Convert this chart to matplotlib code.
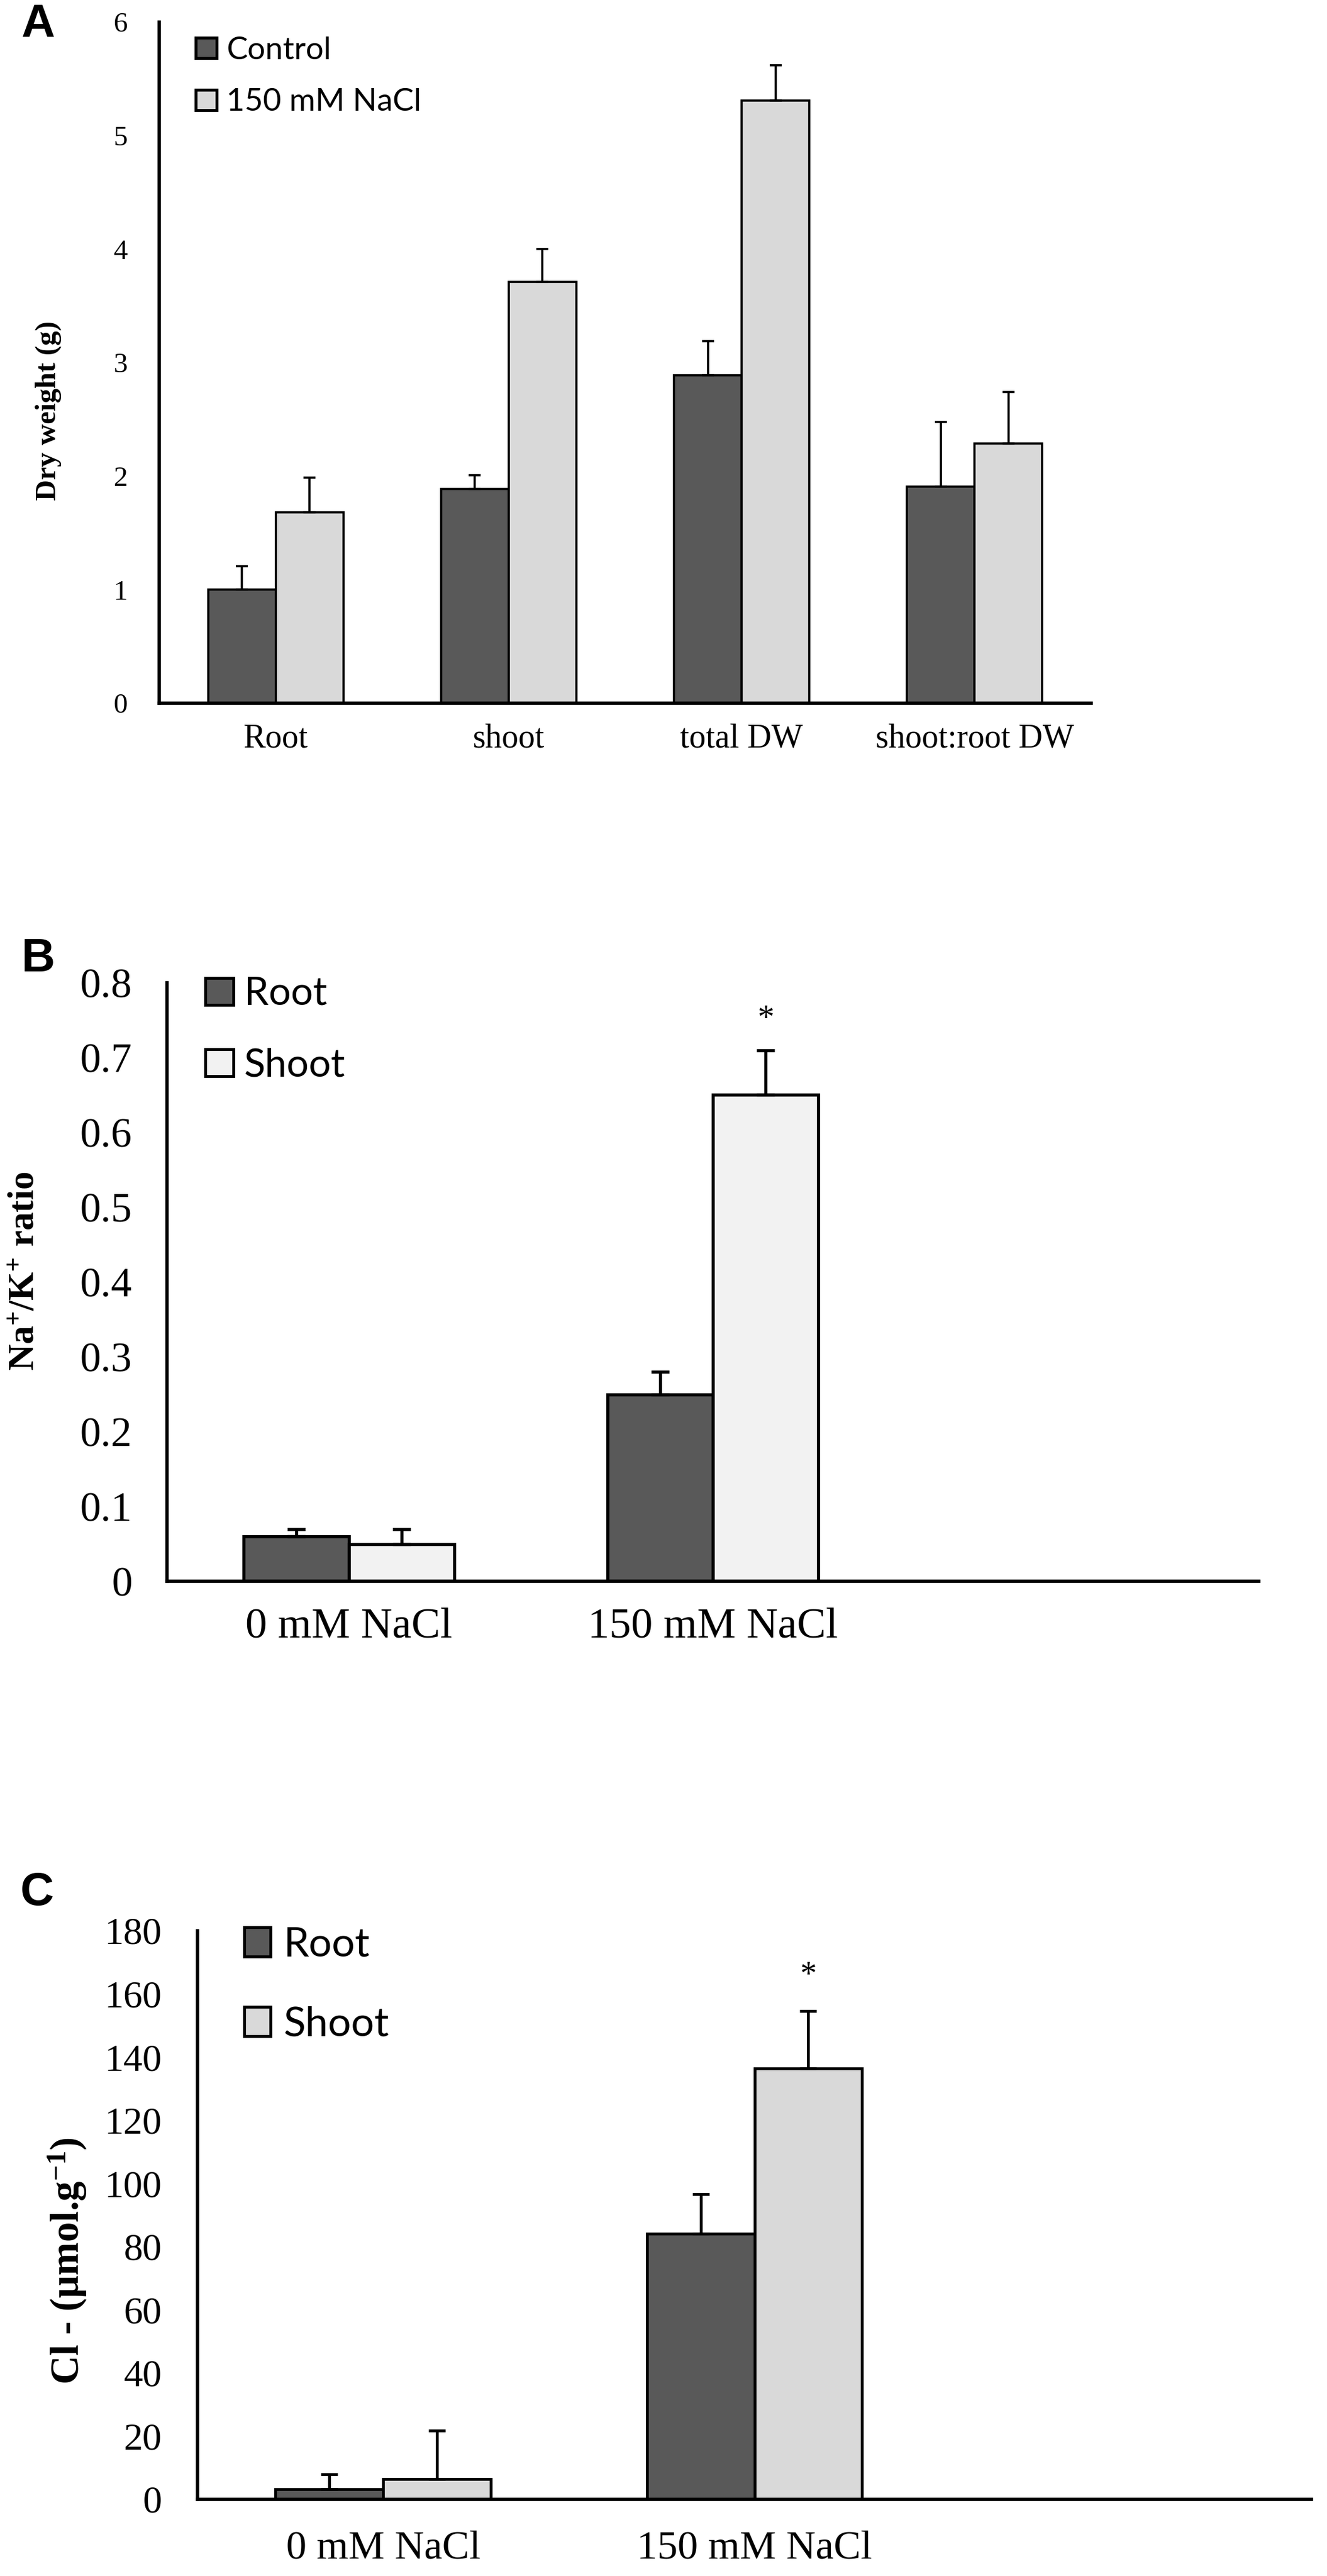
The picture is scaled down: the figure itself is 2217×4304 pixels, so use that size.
import numpy as np
import matplotlib
matplotlib.use("Agg")
import matplotlib.pyplot as plt
from matplotlib.patches import Patch

plt.rcParams['font.family'] = ['Liberation Serif', 'DejaVu Serif']
plt.rcParams['mathtext.default'] = 'regular'

# panel A: dry weight
a_cats = ['Root', 'shoot', 'total DW', 'shoot:root DW']
a_control = [1.0, 1.89, 2.89, 1.91]
a_control_err = [0.21, 0.12, 0.30, 0.57]
a_nacl = [1.68, 3.71, 5.31, 2.29]
a_nacl_err = [0.31, 0.29, 0.31, 0.45]
a_ticks = [0, 1, 2, 3, 4, 5, 6]

# panel B: Na+/K+ ratio
b_cats = ['0 mM NaCl', '150 mM NaCl', '']
b_root = [0.06, 0.25]
b_root_err = [0.01, 0.03]
b_shoot = [0.05, 0.65]
b_shoot_err = [0.02, 0.06]
b_ticks = [0, 0.1, 0.2, 0.3, 0.4, 0.5, 0.6, 0.7, 0.8]
b_star = 0.76

# panel C: Cl- content
c_cats = ['0 mM NaCl', '150 mM NaCl', '']
c_root = [3.3, 84.1]
c_root_err = [4.6, 12.5]
c_shoot = [6.4, 136.4]
c_shoot_err = [15.3, 18.2]
c_ticks = [0, 20, 40, 60, 80, 100, 120, 140, 160, 180]
c_star = 168

dark = '#595959'
W = 2217
H = 4304
fig = plt.figure(figsize=(W / 100, H / 100), dpi=100)


def make_axes(left, right, top, bottom):
    # pixel box of the plot area -> figure fraction
    return fig.add_axes([left / W, 1 - bottom / H, (right - left) / W, (bottom - top) / H])


def style(ax, tick_fs, cat_fs, ypad, xpad):
    for s in ['top', 'right']:
        ax.spines[s].set_visible(False)
    for s in ['left', 'bottom']:
        ax.spines[s].set_linewidth(4)
        ax.spines[s].set_zorder(4)
    ax.tick_params(axis='y', length=0, pad=ypad, labelsize=tick_fs)
    ax.tick_params(axis='x', length=0, pad=xpad, labelsize=cat_fs)


def bars(ax, vals1, err1, col1, vals2, err2, col2, w, lw, cap):
    x = np.arange(len(vals1))
    kw = dict(edgecolor='black', linewidth=lw, zorder=3,
              error_kw=dict(elinewidth=lw, capthick=lw, capsize=cap, ecolor='black'))
    ax.bar(x - w / 2, vals1, w, color=col1,
           yerr=[np.zeros(len(err1)), err1], **kw)
    ax.bar(x + w / 2, vals2, w, color=col2,
           yerr=[np.zeros(len(err2)), err2], **kw)
    return x


def legend(ax, labels, colors, fs, anchor, hl, hh, sp, pad):
    handles = [Patch(facecolor=c, edgecolor='black', linewidth=3.5) for c in colors]
    ax.legend(handles, labels, loc='upper left', bbox_to_anchor=anchor,
              frameon=False, borderpad=0, borderaxespad=0,
              handlelength=hl, handleheight=hh, handletextpad=pad,
              labelspacing=sp, prop=dict(family='Lato', size=fs))


def star(ax, x, y):
    ax.annotate('*', (x, y), xytext=(0, -9), textcoords='offset points',
                fontsize=40, ha='center', va='center')


w = 0.29

# ---- A ----
ax = make_axes(266, 1823, 37, 1175)
bars(ax, a_control, a_control_err, dark, a_nacl, a_nacl_err, '#d9d9d9', w, 2.6, 7.5)
ax.set_xlim(-0.5, 3.5)
ax.set_ylim(0, 6)
ax.set_yticks(a_ticks)
ax.set_xticks(range(len(a_cats)))
ax.set_xticklabels(a_cats)
style(ax, 34, 40, 38, 24)
ax.set_ylabel('Dry weight (g)', fontsize=35, fontweight='bold', va='center')
ax.yaxis.set_label_coords(-0.119, 0.43)
legend(ax, ['Control', '150 mM NaCl'], [dark, '#d9d9d9'], 38, (0.039, 0.979), 0.66, 0.62, 0.75, 0.32)
fig.text(63 / W, 1 - 41 / H, 'A', family='Liberation Sans', fontweight='bold',
         fontsize=56, ha='center', va='center')

# ---- B ----
ax = make_axes(279, 2103, 1642, 2642)
x = bars(ax, b_root, b_root_err, dark, b_shoot, b_shoot_err, '#f2f2f2', w, 3.8, 11)
star(ax, x[1] + w / 2, b_star)
ax.set_xlim(-0.5, 2.5)
ax.set_ylim(0, 0.8)
ax.set_yticks(b_ticks)
ax.set_yticklabels(['0'] + [f'{t:.1f}' for t in b_ticks[1:]])
ax.set_xticks(range(len(b_cats)))
ax.set_xticklabels(b_cats)
style(ax, 50, 52, 42, 31)
ax.set_ylabel('Na$^{+}$/K$^{+}$ ratio', fontsize=44, fontweight='bold', va='center')
ax.yaxis.set_label_coords(-0.130, 0.518)
legend(ax, ['Root', 'Shoot'], [dark, '#f2f2f2'], 47, (0.035, 1.011), 0.72, 0.68, 0.92, 0.28)
fig.text(64 / W, 1 - 1602 / H, 'B', family='Liberation Sans', fontweight='bold',
         fontsize=56, ha='center', va='center')

# ---- C ----
ax = make_axes(330, 2191, 3226, 4176)
x = bars(ax, c_root, c_root_err, dark, c_shoot, c_shoot_err, '#d9d9d9', w, 3.4, 10)
star(ax, x[1] + w / 2, c_star)
ax.set_xlim(-0.5, 2.5)
ax.set_ylim(0, 180)
ax.set_yticks(c_ticks)
ax.set_xticks(range(len(c_cats)))
ax.set_xticklabels(c_cats)
style(ax, 46, 49, 43, 37)
ax.set_ylabel('Cl - (µmol.g$^{-1}$)', fontsize=48, fontweight='bold', va='center')
ax.yaxis.set_label_coords(-0.1166, 0.42)
legend(ax, ['Root', 'Shoot'], [dark, '#d9d9d9'], 49, (0.042, 1.008), 0.65, 0.74, 1.04, 0.32)
fig.text(62 / W, 1 - 3162 / H, 'C', family='Liberation Sans', fontweight='bold',
         fontsize=56, ha='center', va='center')

fig.savefig('out.png', dpi=100)
